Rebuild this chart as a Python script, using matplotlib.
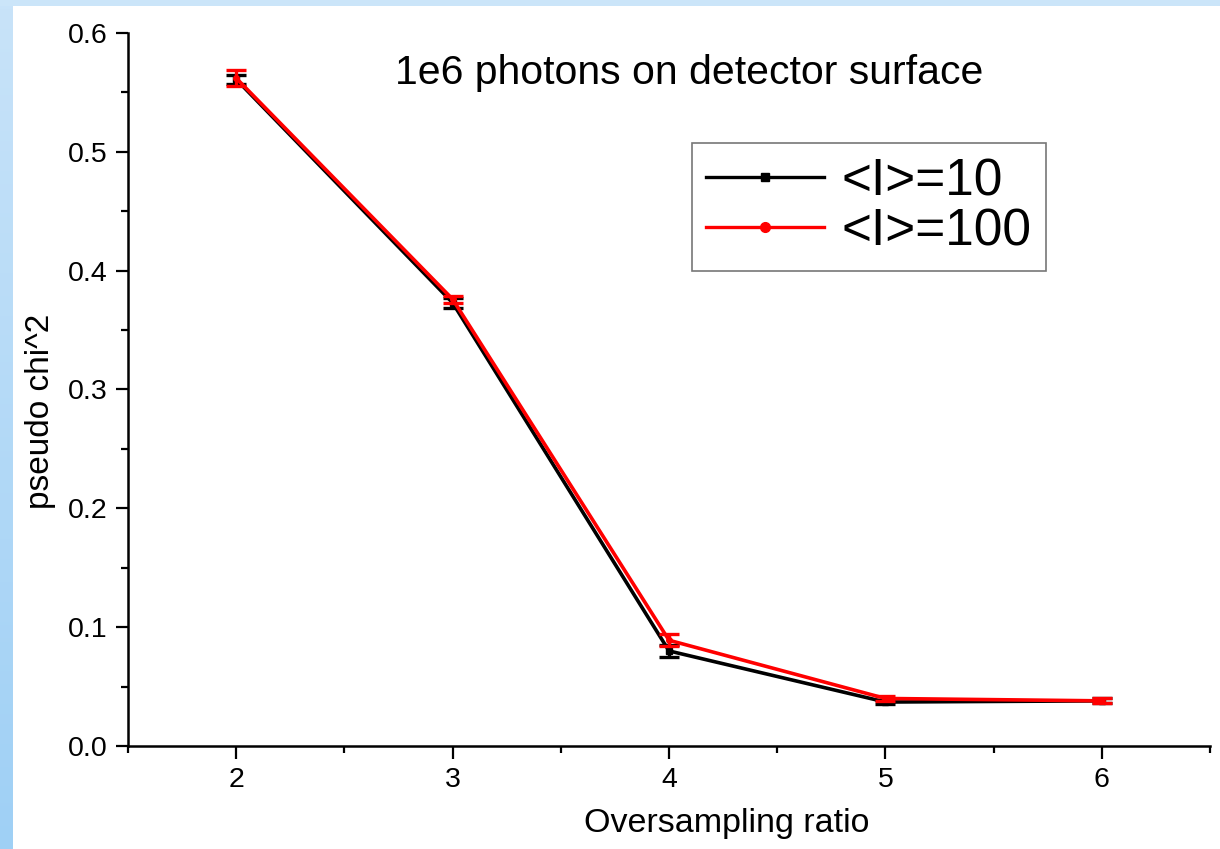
import numpy as np
import matplotlib
matplotlib.use("Agg")
from matplotlib import pyplot as plt
from matplotlib.ticker import MultipleLocator, FormatStrFormatter
from matplotlib.patches import Rectangle
from matplotlib.lines import Line2D

plt.rcParams['font.family'] = ['Liberation Sans', 'DejaVu Sans']

## datos
ratio = [2, 3, 4, 5, 6]
chi_10 = [0.561, 0.373, 0.080, 0.037, 0.038]
err_10 = [0.004, 0.004, 0.005, 0.002, 0.002]
chi_100 = [0.562, 0.376, 0.089, 0.040, 0.038]
err_100 = [0.007, 0.003, 0.005, 0.002, 0.002]
labels = ['<I>=10', '<I>=100']

fig = plt.figure(figsize=(12.2, 8.49), dpi=100)
fig.patch.set_facecolor('white')

# borde azul de fondo (izquierda degradado, arriba claro)
fig.patches.append(Rectangle((0, 1 - 6/849), 1, 6/849, transform=fig.transFigure,
                             facecolor='#cbe5f9', edgecolor='none', zorder=0))
band = fig.add_axes([0, 0, 13/1220, 1 - 6/849])
grad = np.linspace(0, 1, 256).reshape(-1, 1)
band.imshow(grad, aspect='auto', cmap=matplotlib.colors.LinearSegmentedColormap.from_list(
    'b', ['#9fd0f5', '#c8e3f9']), origin='lower')
band.axis('off')

ax = fig.add_axes([128/1220, 1 - 746/849, (1210 - 128)/1220, (746 - 33)/849])

ax.errorbar(ratio, chi_10, yerr=err_10, color='black', lw=2.6, marker='s', ms=4,
            capsize=7.5, capthick=2.4, elinewidth=2.4, zorder=3)
ax.errorbar(ratio, chi_100, yerr=err_100, color='#ff0000', lw=2.6, marker='o', ms=4,
            capsize=7.5, capthick=2.4, elinewidth=2.4, zorder=4)

ax.set_xlim(1.5, 6.5)
ax.set_ylim(0, 0.6)
ax.xaxis.set_major_locator(MultipleLocator(1))
ax.xaxis.set_minor_locator(MultipleLocator(0.5))
ax.yaxis.set_major_locator(MultipleLocator(0.1))
ax.yaxis.set_minor_locator(MultipleLocator(0.05))
ax.set_xticks(ratio)
ax.yaxis.set_major_formatter(FormatStrFormatter('%.1f'))

for s in ['top', 'right']:
    ax.spines[s].set_visible(False)
for s in ['left', 'bottom']:
    ax.spines[s].set_linewidth(1.8)

ax.tick_params(which='major', direction='out', length=9, width=1.6, labelsize=20.5, pad=6)
ax.tick_params(which='minor', direction='out', length=5, width=1.6)

ax.set_xlabel('Oversampling ratio', fontsize=24.5)
ax.xaxis.set_label_coords(0.553, -0.087)
ax.set_ylabel('pseudo chi^2', fontsize=24)
ax.yaxis.set_label_coords(-0.067, 0.47)

ax.text(0.519, 0.944, '1e6 photons on detector surface', transform=ax.transAxes,
        fontsize=29.5, ha='center', va='center')

handles = [Line2D([], [], color='black', lw=2.4, marker='s', ms=6),
           Line2D([], [], color='#ff0000', lw=2.4, marker='o', ms=7)]
leg = ax.legend(handles, labels, loc='upper left', bbox_to_anchor=(0.521, 0.846), fontsize=37,
                frameon=True, fancybox=False, handlelength=2.3, handletextpad=0.33,
                borderpad=0.28, labelspacing=0.02, borderaxespad=0)
leg.get_frame().set_edgecolor('#555555')
leg.get_frame().set_linewidth(1.2)

fig.savefig('out.png', dpi=100)
